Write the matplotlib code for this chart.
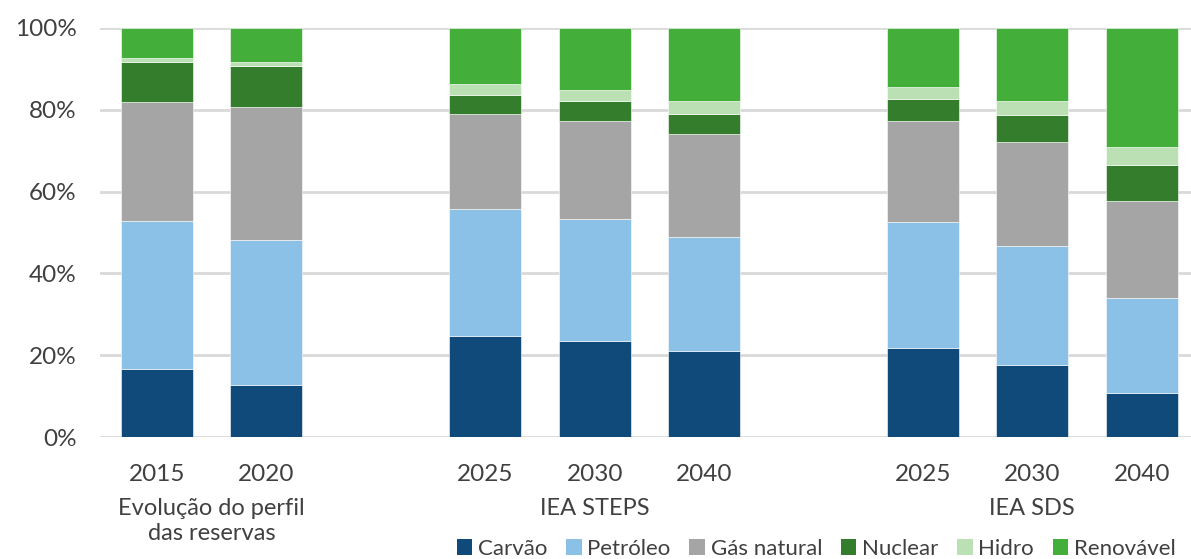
import matplotlib
matplotlib.use("Agg")
import matplotlib.pyplot as plt
import numpy as np
from matplotlib.patches import Patch
from matplotlib.ticker import PercentFormatter

plt.rcParams['font.family'] = ['Lato', 'DejaVu Sans']

# Bar labels and their group
years = ["2015", "2020", "2025", "2030", "2040", "2025", "2030", "2040"]
groups = ["Evolução do perfil\ndas reservas", "IEA STEPS", "IEA SDS"]
group_members = [[0, 1], [2, 3, 4], [5, 6, 7]]

# Shares of each source (%), one value per bar
carvao = [16.7, 12.8, 24.7, 23.4, 21.1, 21.8, 17.6, 10.9]
petroleo = [36.0, 35.4, 31.0, 30.0, 27.9, 30.7, 29.2, 23.0]
gas_natural = [29.1, 32.4, 23.2, 23.9, 25.1, 24.8, 25.4, 23.8]
nuclear = [9.9, 10.0, 4.7, 4.8, 4.9, 5.3, 6.5, 8.7]
hidro = [1.0, 1.1, 2.7, 2.8, 3.1, 3.0, 3.5, 4.5]
renovavel = [7.3, 8.3, 13.7, 15.1, 17.9, 14.4, 17.8, 29.1]

series = ["Carvão", "Petróleo", "Gás natural", "Nuclear", "Hidro", "Renovável"]
values = [carvao, petroleo, gas_natural, nuclear, hidro, renovavel]
colors = ["#104a7a", "#8bc1e6", "#a5a5a5", "#337d2c", "#bbe0b3", "#44ae3a"]

# x slots: an empty slot separates each group
xpos = np.array([0, 1, 3, 4, 5, 7, 8, 9])

fig = plt.figure(figsize=(11.91, 5.59), dpi=100)
ax = fig.add_axes([0.084, 0.218, 0.916, 0.732])

bottom = np.zeros(len(years))
for name, vals, col in zip(series, values, colors):
    vals = np.array(vals)
    ax.bar(xpos, vals, width=0.66, bottom=bottom, color=col,
           edgecolor="#ffffff", linewidth=0.4, zorder=3, label=name)
    bottom += vals

ax.set_ylim(0, 100)
ax.set_xlim(-0.52, 9.45)
ax.set_yticks([0, 20, 40, 60, 80, 100])
ax.yaxis.set_major_formatter(PercentFormatter(decimals=0))
ax.grid(axis="y", color="#d9d9d9", linewidth=2, zorder=0)
ax.set_axisbelow(True)
for s in ax.spines.values():
    s.set_visible(False)

ax.set_xticks(xpos)
ax.set_xticklabels(years)
ax.tick_params(axis="both", length=0, labelsize=17.5, labelcolor="#404040")
ax.tick_params(axis="y", pad=17)
ax.tick_params(axis="x", pad=19)

for label, members in zip(groups, group_members):
    xc = xpos[members].mean()
    ax.text(xc, -0.148, label, transform=ax.get_xaxis_transform(),
            ha="center", va="top", fontsize=17, color="#404040",
            linespacing=1.25)

handles = [Patch(facecolor=c, edgecolor="none") for c in colors]
fig.legend(handles, series, loc="lower right", bbox_to_anchor=(1.004, -0.035),
           ncol=6, frameon=False, fontsize=16, handlelength=0.7,
           handleheight=0.7, handletextpad=0.25, columnspacing=0.85,
           labelcolor="#404040")

fig.savefig("out.png", dpi=100)
